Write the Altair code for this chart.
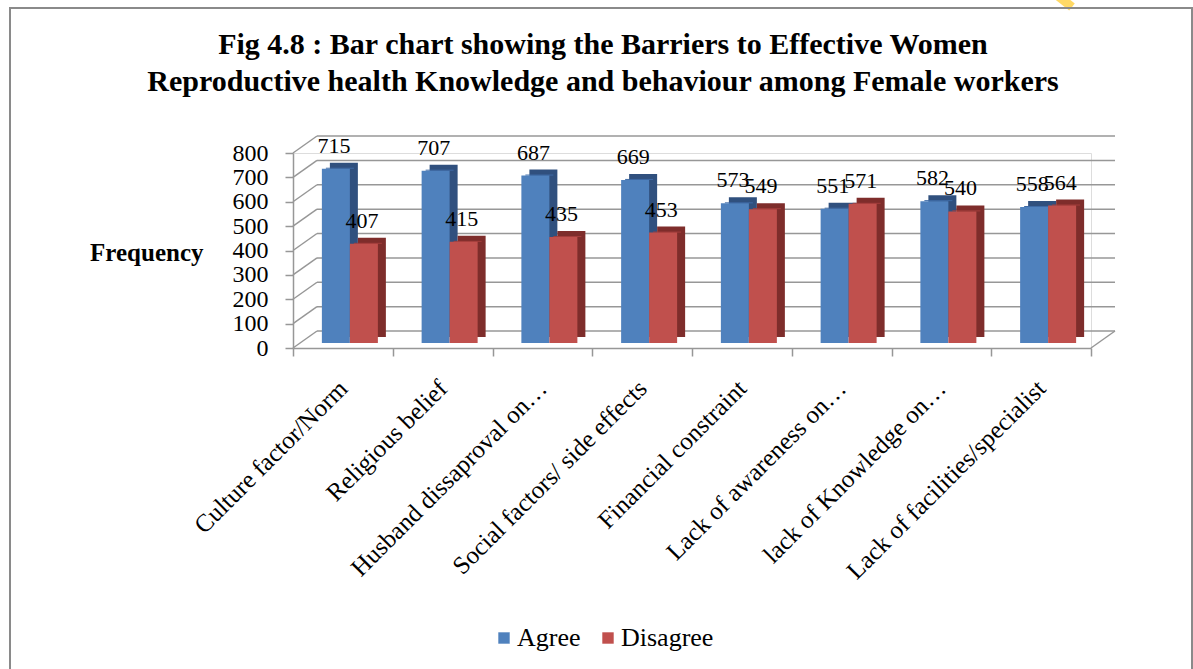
import altair as alt
import pandas as pd

# ---- data -------------------------------------------------------------
categories = [
    "Culture factor/Norm",
    "Religious belief",
    "Husband dissaproval on…",
    "Social factors/ side effects",
    "Financial constraint",
    "Lack of awareness on…",
    "lack of Knowledge on…",
    "Lack of facilities/specialist",
]
agree = [715, 707, 687, 669, 573, 551, 582, 558]
disagree = [407, 415, 435, 453, 549, 571, 540, 564]
series = ["Agree", "Disagree"]
y_ticks = [0, 100, 200, 300, 400, 500, 600, 700, 800]
title_lines = [
    "Fig 4.8 : Bar chart showing the Barriers to Effective Women",
    "Reproductive health Knowledge and behaviour among Female workers",
]

rows = []
for cat, a, d in zip(categories, agree, disagree):
    rows.append({"category": cat, "response": "Agree", "count": a})
    rows.append({"category": cat, "response": "Disagree", "count": d})
df = pd.DataFrame(rows)
grid = pd.DataFrame({"level": y_ticks})
floor = pd.DataFrame({"level": [0]})
frame = pd.DataFrame({"k": [0]})

# ---- geometry / style ---------------------------------------------------
W, H = 798, 195            # plot area (front plane of the 3-D box)
LEFT, TOP = 293, 153
DX, DY = 24, 17            # depth of the back wall
BX, BY = 7, 5              # bars sit half-way into the box
FX, FY = 8, 6              # visible top / side faces of each bar
BAR_W = 28
Y_MAX = 800
U = Y_MAX / H              # data units per pixel
SERIF = "Liberation Serif"
GRID = "#979797"
FRONT = {"Agree": "#4F81BD", "Disagree": "#C0504D"}
TOPC = {"Agree": "#3E6AA5", "Disagree": "#A43E3C"}
SIDEC = {"Agree": "#30507E", "Disagree": "#7E2D2B"}
SHIFT = {"Agree": -BAR_W / 2, "Disagree": BAR_W / 2}   # centre of each bar within its band

yscale = alt.Scale(domain=[0, Y_MAX], nice=False, zero=True)
xscale = alt.Scale(domain=categories, paddingInner=0, paddingOuter=0)

x_axis = alt.Axis(
    title=None, labelAngle=-45, labelAlign="right", labelBaseline="middle",
    labelFont=SERIF, labelFontSize=25, labelColor="black", labelPadding=28,
    labelLimit=500, tickBand="extent", tickSize=8, tickColor=GRID,
    tickWidth=1.5, domainColor=GRID, domainWidth=1.5, grid=False,
)
y_axis = alt.Axis(
    values=y_ticks, title="Frequency", titleAngle=0, titleAlign="right",
    titleBaseline="middle", titleX=-90, titleY=99, titleFont=SERIF,
    titleFontSize=25, titleFontWeight="bold", titleColor="black",
    labelFont=SERIF, labelFontSize=24, labelColor="black", labelPadding=17,
    tickSize=8, tickColor=GRID, tickWidth=1.5, domainColor=GRID,
    domainWidth=1.5, grid=False,
)
X = alt.X("category:N", scale=xscale, sort=categories, axis=x_axis)


def Y(field):
    return alt.Y(field, scale=yscale, axis=y_axis)


# ---- 3-D walls ------------------------------------------------------------
back_wall = alt.Chart(grid).mark_rule(color=GRID, strokeWidth=1.5, yOffset=-DY).encode(
    y=Y("level:Q"), x=alt.value(DX), x2=alt.value(W + DX),
)
side_wall = alt.Chart(grid).transform_calculate(
    back=f"datum.level + {DY * U}"
).mark_rule(color=GRID, strokeWidth=1.5).encode(
    y=Y("level:Q"), y2="back:Q", x=alt.value(0), x2=alt.value(DX),
)
floor_edge = alt.Chart(floor).transform_calculate(
    back=f"datum.level + {DY * U}"
).mark_rule(color=GRID, strokeWidth=1.5).encode(
    y=Y("level:Q"), y2="back:Q", x=alt.value(W), x2=alt.value(W + DX),
)

# ---- bars (one set of faces per response) ----------------------------------
sides, tops, fronts, texts = [], [], [], []
for s in series:
    src = alt.Chart(df).transform_filter(alt.datum.response == s).transform_calculate(
        count_top=f"datum.count + {FY * U}"
    )
    sides.append(src.mark_bar(
        width=BAR_W, color=SIDEC[s], xOffset=SHIFT[s] + BX + FX, yOffset=-(BY + FY)
    ).encode(x=X, y=Y("count:Q")))
    tops.append(src.mark_bar(
        width=BAR_W, color=TOPC[s], xOffset=SHIFT[s] + BX + FX / 2, yOffset=-BY
    ).encode(x=X, y=Y("count:Q"), y2="count_top:Q"))
    fronts.append(src.mark_bar(
        width=BAR_W, xOffset=SHIFT[s] + BX, yOffset=-BY
    ).encode(
        x=X, y=Y("count:Q"),
        color=alt.Color(
            "response:N",
            scale=alt.Scale(domain=series, range=[FRONT[k] for k in series]),
            legend=alt.Legend(
                title=None, orient="none", legendX=198, legendY=472,
                direction="horizontal", symbolType="square", symbolSize=130,
                symbolStrokeWidth=0, labelFont=SERIF, labelFontSize=26,
                labelColor="black", columnPadding=14, labelOffset=0,
            ),
        ),
    ))
    texts.append(src.mark_text(
        font=SERIF, fontSize=22, color="black", baseline="alphabetic",
        xOffset=SHIFT[s] + BX - 2, yOffset=-(BY + 16),
    ).encode(x=X, y=Y("count:Q"), text="count:Q"))

# ---- title, outer frame -------------------------------------------------------
titles = [
    alt.Chart(frame).mark_text(
        text=line, font=SERIF, fontSize=30, fontWeight="bold", color="black",
        align="center", baseline="alphabetic",
    ).encode(x=alt.value(603 - LEFT), y=alt.value(base - TOP))
    for line, base in zip(title_lines, [54, 91])
]
border = alt.Chart(frame).mark_rect(fill=None, stroke="#8a8a8a", strokeWidth=2).encode(
    x=alt.value(10 - LEFT), x2=alt.value(1192 - LEFT),
    y=alt.value(8 - TOP), y2=alt.value(720 - TOP),
)
marker = alt.Chart(frame).mark_rule(color="#FFD966", strokeWidth=9).encode(
    x=alt.value(1058 - LEFT), x2=alt.value(1072 - LEFT),
    y=alt.value(-4 - TOP), y2=alt.value(7 - TOP),
)

chart = alt.layer(
    marker, border, back_wall, side_wall, floor_edge,
    *sides, *tops, *fronts, *texts, *titles,
).properties(
    width=W, height=H,
    autosize=alt.AutoSizeParams(type="none"),
    padding={"left": LEFT, "top": TOP, "right": 1193 - LEFT - W, "bottom": 669 - TOP - H},
).configure_view(stroke=None).configure(background="white")

chart.save("out.html", embed_options={"renderer": "svg", "actions": False})
